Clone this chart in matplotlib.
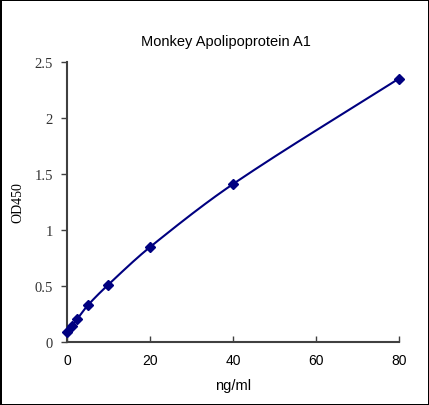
import matplotlib
matplotlib.use("Agg")
import matplotlib.pyplot as plt
import numpy as np

# standard curve values
conc = [0, 1.25, 2.5, 5, 10, 20, 40, 80]
od450 = [0.085, 0.143, 0.203, 0.324, 0.511, 0.846, 1.41, 2.355]
x_ticks = [0, 20, 40, 60, 80]
y_ticks = [0, 0.5, 1, 1.5, 2, 2.5]
y_tick_labels = ["0", "0.5", "1", "1.5", "2", "2.5"]

line_color = "#000080"
axis_color = "#404040"
sans = "Liberation Sans"
serif = "Liberation Serif"


def smooth_line(x, y, n=40):
    """Catmull-Rom style smoothed line through the points (like a spreadsheet)."""
    x = np.asarray(x, float)
    y = np.asarray(y, float)
    m = np.zeros_like(y)
    m[0] = (y[1] - y[0]) / (x[1] - x[0])
    m[-1] = (y[-1] - y[-2]) / (x[-1] - x[-2])
    for i in range(1, len(x) - 1):
        m[i] = (y[i + 1] - y[i - 1]) / (x[i + 1] - x[i - 1])
    xs, ys = [], []
    for i in range(len(x) - 1):
        h = x[i + 1] - x[i]
        t = np.linspace(0, 1, n)
        h00 = 2 * t**3 - 3 * t**2 + 1
        h10 = t**3 - 2 * t**2 + t
        h01 = -2 * t**3 + 3 * t**2
        h11 = t**3 - t**2
        xs.extend(x[i] + t * h)
        ys.extend(h00 * y[i] + h10 * h * m[i] + h01 * y[i + 1] + h11 * h * m[i + 1])
    return xs, ys


fig = plt.figure(figsize=(4.29, 4.06), dpi=100, edgecolor="black", linewidth=2)
ax = fig.add_axes([0.156, 0.156, 0.774, 0.688])

xs, ys = smooth_line(conc, od450)
ax.plot(xs, ys, color=line_color, linewidth=1.5, clip_on=False)
ax.plot(conc, od450, linestyle="none", marker="D", markersize=5,
        color=line_color, clip_on=False, zorder=3)

ax.set_xlim(0, 80)
ax.set_ylim(0, 2.5)
ax.set_xticks(x_ticks)
ax.set_yticks(y_ticks)
ax.set_yticklabels(y_tick_labels, fontfamily=serif, fontsize=10.5, color="#333333")
for lab in ax.get_xticklabels():
    lab.set_fontfamily(sans)
    lab.set_fontsize(10)

for side in ["top", "right"]:
    ax.spines[side].set_visible(False)
for side in ["left", "bottom"]:
    ax.spines[side].set_color(axis_color)
    ax.spines[side].set_linewidth(1.5)

ax.tick_params(axis="x", direction="in", length=4, width=1, color=axis_color, pad=8)
ax.tick_params(axis="y", direction="out", length=4, width=1, color=axis_color, pad=6)

ax.set_xlabel("ng/ml", fontfamily=sans, fontsize=10.5, labelpad=8)
ax.set_ylabel("OD450", fontfamily=serif, fontsize=10, labelpad=7)
fig.text(0.527, 0.897, "Monkey Apolipoprotein A1", ha="center", va="center",
         fontfamily=sans, fontsize=10.5)

fig.savefig("out.png", dpi=100, facecolor="white", edgecolor="black")
